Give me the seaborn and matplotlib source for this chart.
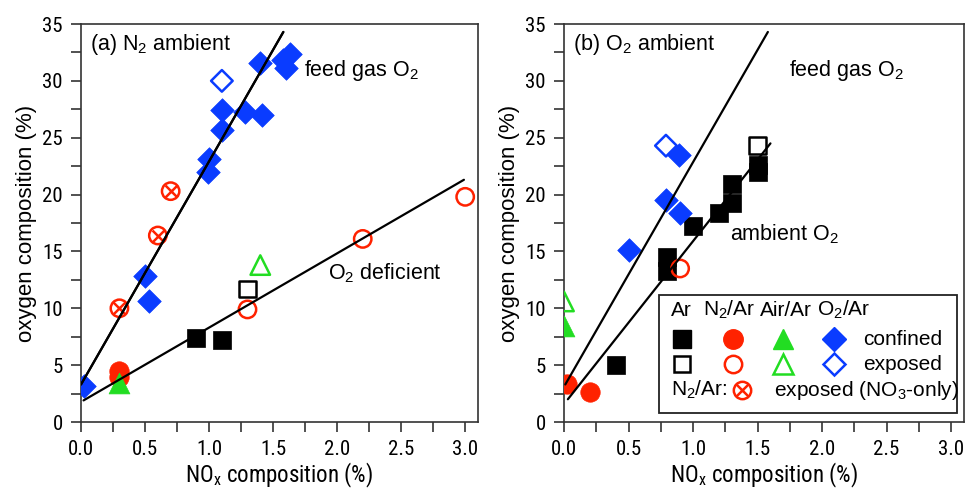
import numpy as np
import pandas as pd
import matplotlib
matplotlib.use("Agg")
import matplotlib.pyplot as plt
import seaborn as sns
from matplotlib import font_manager
from matplotlib.ticker import MultipleLocator
from matplotlib.patches import Rectangle
from matplotlib.lines import Line2D

# ---------------- data: panel (a) N2 ambient ----------------
a_ar_conf_x = [0.9, 1.1]
a_ar_conf_y = [7.35, 7.2]
a_ar_exp_x = [1.3]
a_ar_exp_y = [11.7]
a_n2_conf_x = [0.3, 0.3]
a_n2_conf_y = [4.5, 4.0]
a_n2_exp_x = [1.3, 2.2, 3.0]
a_n2_exp_y = [9.9, 16.1, 19.8]
a_n2_no3_x = [0.3, 0.6, 0.7]
a_n2_no3_y = [10.0, 16.4, 20.3]
a_air_conf_x = [0.3]
a_air_conf_y = [3.4]
a_air_exp_x = [1.4]
a_air_exp_y = [13.8]
a_o2_conf_x = [0.02, 0.5, 0.53, 0.99, 1.0, 1.1, 1.1, 1.28, 1.41, 1.4, 1.6, 1.58, 1.63]
a_o2_conf_y = [3.2, 12.8, 10.6, 22.0, 23.1, 25.7, 27.4, 27.3, 27.0, 31.6, 31.1, 31.8, 32.4]
a_o2_exp_x = [1.1]
a_o2_exp_y = [30.0]
a_line1_x = [0.0, 1.58]
a_line1_y = [3.3, 34.3]
a_line2_x = [0.02, 2.99]
a_line2_y = [1.9, 21.3]

# ---------------- data: panel (b) O2 ambient ----------------
b_ar_conf_x = [0.4, 0.8, 0.8, 1.0, 1.2, 1.3, 1.3, 1.5, 1.5]
b_ar_conf_y = [5.0, 13.3, 14.5, 17.2, 18.4, 19.3, 20.9, 22.0, 22.6]
b_ar_exp_x = [1.5]
b_ar_exp_y = [24.3]
b_n2_conf_x = [0.02, 0.2]
b_n2_conf_y = [3.3, 2.6]
b_n2_exp_x = [0.9]
b_n2_exp_y = [13.5]
b_air_conf_x = [0.0]
b_air_conf_y = [8.4]
b_air_exp_x = [0.0]
b_air_exp_y = [10.6]
b_o2_conf_x = [0.5, 0.79, 0.9, 0.89]
b_o2_conf_y = [15.1, 19.5, 18.35, 23.5]
b_o2_exp_x = [0.79]
b_o2_exp_y = [24.3]
b_line1_x = [0.01, 1.58]
b_line1_y = [3.3, 34.3]
b_line2_x = [0.03, 1.6]
b_line2_y = [2.0, 24.5]

x_ticks = [0.0, 0.5, 1.0, 1.5, 2.0, 2.5, 3.0]
y_ticks = [0, 5, 10, 15, 20, 25, 30, 35]
gas_names = ["Ar", "N$_2$/Ar", "Air/Ar", "O$_2$/Ar"]

# ---------------- style ----------------
sns.set_theme(style="ticks")
avail = sorted({f.name for f in font_manager.fontManager.ttflist})
MAIN = "Liberation Sans" if "Liberation Sans" in avail else "DejaVu Sans"
narrow_cands = [n for n in avail if ("Narrow" in n or "Condensed" in n)]
pref = [n for n in narrow_cands if "Liberation" in n] + \
       [n for n in narrow_cands if "Roboto" in n] + narrow_cands
NARROW = pref[0] if pref else MAIN
plt.rcParams["font.family"] = [MAIN, "DejaVu Sans"]
plt.rcParams["mathtext.fontset"] = "custom"
plt.rcParams["mathtext.rm"] = MAIN
plt.rcParams["mathtext.it"] = MAIN
plt.rcParams["mathtext.bf"] = MAIN
for k in ["text.color", "axes.labelcolor", "xtick.color", "ytick.color",
          "xtick.labelcolor", "ytick.labelcolor"]:
    plt.rcParams[k] = "black"

RED = "#FF2200"
BLUE = "#0A3CFF"
GREEN = "#22DD22"
BLACK = "#000000"
FS = 15.5
LFS = 15

# marker specs: (marker, size in points, color)
MK = {
    "ar": ("s", 13, BLACK),
    "n2": ("o", 14, RED),
    "air": ("^", 15, GREEN),
    "o2": ("D", 12, BLUE),
}
OPEN_SIZE = {"ar": 12, "n2": 12.5, "air": 14, "o2": 11}


def scatter_filled(ax, xs, ys, key):
    m, s, c = MK[key]
    df = pd.DataFrame({"x": xs, "y": ys})
    sns.scatterplot(data=df, x="x", y="y", ax=ax, marker=m, s=s ** 2,
                    color=c, edgecolor=c, linewidth=0.5, zorder=3,
                    legend=False, clip_on=True)


def scatter_open(ax, xs, ys, key):
    m, s, c = MK[key]
    df = pd.DataFrame({"x": xs, "y": ys})
    sns.scatterplot(data=df, x="x", y="y", ax=ax, marker=m,
                    s=OPEN_SIZE[key] ** 2, color=c, facecolor="none",
                    edgecolor=c, linewidth=1.8, zorder=3, legend=False,
                    clip_on=True)


def scatter_cross(ax, xs, ys):
    df = pd.DataFrame({"x": xs, "y": ys})
    sns.scatterplot(data=df, x="x", y="y", ax=ax, marker="o", s=12.5 ** 2,
                    color=RED, facecolor="none", edgecolor=RED,
                    linewidth=1.8, zorder=3, legend=False)
    sns.scatterplot(data=df, x="x", y="y", ax=ax, marker="x", s=8.5 ** 2,
                    color=RED, linewidth=1.8, zorder=3, legend=False)


def fit_line(ax, xs, ys):
    df = pd.DataFrame({"x": xs, "y": ys})
    sns.lineplot(data=df, x="x", y="y", ax=ax, color="black", linewidth=1.6,
                 zorder=4, sort=False, legend=False)


fig = plt.figure(figsize=(9.66, 4.93), dpi=100)
H = (422 - 24) / 493
B = 1 - 422 / 493
ax_a = fig.add_axes([81 / 966, B, (478 - 81) / 966, H])
ax_b = fig.add_axes([564 / 966, B, (964 - 564) / 966, H])

for ax in (ax_a, ax_b):
    ax.set_xlim(0, 3.1)
    ax.set_ylim(0, 35)
    ax.set_xticks(x_ticks)
    ax.set_xticklabels([f"{v:.1f}" for v in x_ticks])
    ax.set_yticks(y_ticks)
    ax.set_yticklabels([str(v) for v in y_ticks])
    ax.xaxis.set_minor_locator(MultipleLocator(0.25))
    ax.yaxis.set_minor_locator(MultipleLocator(2.5))
    ax.tick_params(which="both", direction="out", length=7, width=1.1,
                   color="#222222", top=False, right=False)
    ax.tick_params(which="major", labelsize=15, pad=6, labelcolor="black")
    for lab in ax.get_xticklabels() + ax.get_yticklabels():
        lab.set_fontfamily(NARROW)
    for sp in ax.spines.values():
        sp.set_visible(True)
        sp.set_linewidth(1.2)
        sp.set_color("#333333")
    ax.set_xlabel("NO$_\\mathregular{x}$ composition (%)", fontsize=16.5,
                  family=NARROW, labelpad=1, color="black")
    ax.set_ylabel("oxygen composition (%)", fontsize=16, labelpad=4,
                  color="black")

# ---- panel (a)
fit_line(ax_a, a_line1_x, a_line1_y)
fit_line(ax_a, a_line2_x, a_line2_y)
scatter_filled(ax_a, a_ar_conf_x, a_ar_conf_y, "ar")
scatter_open(ax_a, a_ar_exp_x, a_ar_exp_y, "ar")
scatter_filled(ax_a, a_n2_conf_x, a_n2_conf_y, "n2")
scatter_open(ax_a, a_n2_exp_x, a_n2_exp_y, "n2")
scatter_cross(ax_a, a_n2_no3_x, a_n2_no3_y)
scatter_filled(ax_a, a_air_conf_x, a_air_conf_y, "air")
scatter_open(ax_a, a_air_exp_x, a_air_exp_y, "air")
scatter_filled(ax_a, a_o2_conf_x, a_o2_conf_y, "o2")
scatter_open(ax_a, a_o2_exp_x, a_o2_exp_y, "o2")
fit_line(ax_a, a_line1_x, a_line1_y)

ax_a.text(0.07, 32.7, "(a) N$_2$ ambient", fontsize=FS, va="baseline")
ax_a.text(1.74, 30.4, "feed gas O$_2$", fontsize=FS, va="baseline")
ax_a.text(1.93, 12.5, "O$_2$ deficient", fontsize=FS, va="baseline")

# ---- panel (b)
fit_line(ax_b, b_line1_x, b_line1_y)
fit_line(ax_b, b_line2_x, b_line2_y)
scatter_filled(ax_b, b_ar_conf_x, b_ar_conf_y, "ar")
scatter_open(ax_b, b_ar_exp_x, b_ar_exp_y, "ar")
scatter_filled(ax_b, b_n2_conf_x, b_n2_conf_y, "n2")
scatter_open(ax_b, b_n2_exp_x, b_n2_exp_y, "n2")
scatter_filled(ax_b, b_air_conf_x, b_air_conf_y, "air")
scatter_open(ax_b, b_air_exp_x, b_air_exp_y, "air")
scatter_filled(ax_b, b_o2_conf_x, b_o2_conf_y, "o2")
scatter_open(ax_b, b_o2_exp_x, b_o2_exp_y, "o2")

ax_b.text(0.072, 32.7, "(b) O$_2$ ambient", fontsize=FS, va="baseline")
ax_b.text(1.74, 30.4, "feed gas O$_2$", fontsize=FS, va="baseline")
ax_b.text(1.29, 16.0, "ambient O$_2$", fontsize=FS, va="baseline")

# ---- custom legend table in panel (b)
T = ax_b.transAxes
ax_b.add_patch(Rectangle((0.2375, 0.0226), 0.745, 0.2964, transform=T,
                         facecolor="white", edgecolor="#222222",
                         linewidth=1.3, zorder=6))
hdr_x = [0.2668, 0.3468, 0.49, 0.6318]
for name, hx in zip(gas_names, hdr_x):
    ax_b.text(hx, 0.281, name, transform=T, fontsize=LFS, va="center",
              ha="left", zorder=7)
mk_x = [0.2943, 0.4218, 0.5468, 0.6758]
for key, mx in zip(["ar", "n2", "air", "o2"], mk_x):
    m, s, c = MK[key]
    ax_b.add_line(Line2D([mx], [0.2078], transform=T, marker=m,
                         markersize=s, color=c, markeredgecolor=c,
                         linestyle="none", zorder=7))
    ax_b.add_line(Line2D([mx], [0.1457], transform=T, marker=m,
                         markersize=OPEN_SIZE[key], markerfacecolor="none",
                         markeredgecolor=c, markeredgewidth=1.8,
                         linestyle="none", zorder=7))
ax_b.text(0.7468, 0.2078, "confined", transform=T, fontsize=LFS,
          va="center", zorder=7)
ax_b.text(0.7468, 0.1457, "exposed", transform=T, fontsize=LFS,
          va="center", zorder=7)
ax_b.text(0.2668, 0.0804, "N$_2$/Ar:", transform=T, fontsize=LFS,
          va="center", zorder=7)
ax_b.add_line(Line2D([0.4443], [0.0804], transform=T, marker="o",
                     markersize=12.5, markerfacecolor="none",
                     markeredgecolor=RED, markeredgewidth=1.8,
                     linestyle="none", zorder=7))
ax_b.add_line(Line2D([0.4443], [0.0804], transform=T, marker="x",
                     markersize=8.5, markeredgecolor=RED,
                     markeredgewidth=1.8, linestyle="none", zorder=7))
ax_b.text(0.5258, 0.0804, "exposed (NO$_3$-only)", transform=T,
          fontsize=LFS, va="center", zorder=7)

fig.savefig("out.png", dpi=100)
